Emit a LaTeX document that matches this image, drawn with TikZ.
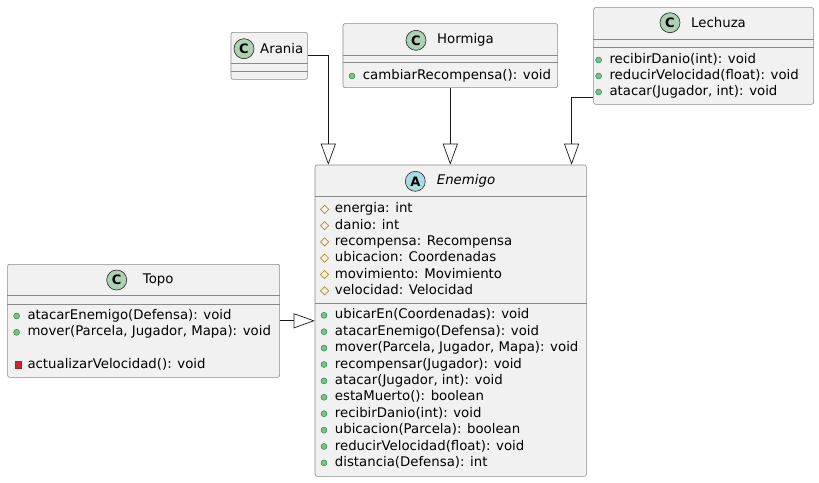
\documentclass[tikz,border=0pt]{standalone}
\usepackage{fontspec}
\setmainfont{DejaVu Sans}
\usetikzlibrary{positioning}
\usetikzlibrary{shapes.geometric, arrows.meta, positioning}
\definecolor{boxfill}{HTML}{F1F1F1}
\definecolor{boxline}{HTML}{8A8A8A}
\definecolor{cgreen}{HTML}{ADD1B2}
\definecolor{acyan}{HTML}{A9DCDF}
\definecolor{pubfill}{HTML}{84BE84}
\definecolor{publine}{HTML}{038048}
\definecolor{protline}{HTML}{B38D22}
\definecolor{privfill}{HTML}{C82930}
\tikzstyle{classbox} = [draw=boxline, fill=boxfill, rounded corners=2pt, line width=0.6pt, anchor=north west, inner sep=0pt]
\tikzstyle{sep} = [draw=boxline, line width=0.6pt]
\tikzstyle{icon} = [draw=black!85, circle, minimum size=20pt, inner sep=0pt, line width=0.6pt, font=\fontsize{13}{13}\selectfont\bfseries]
\tikzstyle{title} = [anchor=west, inner sep=0pt, font=\fontsize{13.3}{16}\selectfont]
\tikzstyle{member} = [anchor=west, inner sep=0pt, text height=10pt, text depth=3pt, font=\fontsize{13.3}{16}\selectfont]
\tikzstyle{pubdot} = [circle, draw=publine, fill=pubfill, minimum size=6pt, inner sep=0pt, line width=0.4pt, label distance=7.5pt]
\tikzstyle{protmark} = [diamond, draw=protline, minimum size=8.5pt, inner sep=0pt, line width=0.7pt, label distance=5.5pt]
\tikzstyle{privmark} = [rectangle, draw=privfill!80!black, fill=privfill, minimum size=6.5pt, inner sep=0pt, line width=0.4pt, label distance=5.5pt]
\tikzstyle{pub} = [member, label={[pubdot]left:}]
\tikzstyle{prot} = [member, label={[protmark]left:}]
\tikzstyle{priv} = [member, label={[privmark]left:}]
\tikzstyle{inherit} = [draw=black!90, line width=0.7pt, -{Triangle[open, length=21pt, width=15pt]}]

\begin{document}
\begin{tikzpicture}[x=1pt, y=-1pt]
    \useasboundingbox (0,0) rectangle (819,482);

    % Class boxes
    \node[classbox, minimum width=76.3pt, minimum height=47pt] (arania) at (230.7,32) {};
    \node[classbox, minimum width=214.6pt, minimum height=64pt] (hormiga) at (342.7,23.3) {};
    \node[classbox, minimum width=220pt, minimum height=96.7pt] (lechuza) at (593.3,7.3) {};
    \node[classbox, minimum width=271.3pt, minimum height=311.3pt] (enemigo) at (314.7,164.7) {};
    \node[classbox, minimum width=272pt, minimum height=113pt] (topo) at (7.3,264) {};

    % Compartment lines
    \draw[sep] (arania.west |- 0,63) -- (arania.east |- 0,63);
    \draw[sep] (arania.west |- 0,71) -- (arania.east |- 0,71);
    \draw[sep] (hormiga.west |- 0,55) -- (hormiga.east |- 0,55);
    \draw[sep] (hormiga.west |- 0,62.7) -- (hormiga.east |- 0,62.7);
    \draw[sep] (lechuza.west |- 0,39.3) -- (lechuza.east |- 0,39.3);
    \draw[sep] (lechuza.west |- 0,47.3) -- (lechuza.east |- 0,47.3);
    \draw[sep] (enemigo.west |- 0,196) -- (enemigo.east |- 0,196);
    \draw[sep] (enemigo.west |- 0,303.3) -- (enemigo.east |- 0,303.3);
    \draw[sep] (topo.west |- 0,295.7) -- (topo.east |- 0,295.7);
    \draw[sep] (topo.west |- 0,304.3) -- (topo.east |- 0,304.3);

    % Headers
    \node[icon, fill=cgreen] (araniaC) at (244,48.7) {C};
    \node[title] (araniaT) at (260,48.7) {Arania};
    \node[icon, fill=cgreen] (hormigaC) at (416,40.3) {C};
    \node[title] (hormigaT) at (437,40.3) {Hormiga};
    \node[icon, fill=cgreen] (lechuzaC) at (670,22.7) {C};
    \node[title] (lechuzaT) at (691,22.7) {Lechuza};
    \node[icon, fill=acyan] (enemigoA) at (415.3,181.3) {A};
    \node[title, font=\fontsize{13.3}{16}\selectfont\itshape] (enemigoT) at (436.7,181.3) {Enemigo};
    \node[icon, fill=cgreen] (topoC) at (116.7,280) {C};
    \node[title] (topoT) at (142.7,280) {Topo};

    % Members of Hormiga and Lechuza
    \node[pub] (h1) at (362.7,76) {cambiarRecompensa(): void};
    \node[pub] (l1) at (609.3,60) {recibirDanio(int): void};
    \node[pub] (l2) at (609.3,76) {reducirVelocidad(float): void};
    \node[pub] (l3) at (609.3,92) {atacar(Jugador, int): void};

    % Members of Enemigo
    \node[prot] (e1) at (334.7,209.3) {energia: int};
    \node[prot] (e2) at (334.7,225.6) {danio: int};
    \node[prot] (e3) at (334.7,241.9) {recompensa: Recompensa};
    \node[prot] (e4) at (334.7,258.2) {ubicacion: Coordenadas};
    \node[prot] (e5) at (334.7,274.5) {movimiento: Movimiento};
    \node[prot] (e6) at (334.7,290.8) {velocidad: Velocidad};
    \node[pub] (m1) at (334.7,315.3) {ubicarEn(Coordenadas): void};
    \node[pub] (m2) at (334.7,331.7) {atacarEnemigo(Defensa): void};
    \node[pub] (m3) at (334.7,348.1) {mover(Parcela, Jugador, Mapa): void};
    \node[pub] (m4) at (334.7,364.5) {recompensar(Jugador): void};
    \node[pub] (m5) at (334.7,380.9) {atacar(Jugador, int): void};
    \node[pub] (m6) at (334.7,397.3) {estaMuerto(): boolean};
    \node[pub] (m7) at (334.7,413.7) {recibirDanio(int): void};
    \node[pub] (m8) at (334.7,430.1) {ubicacion(Parcela): boolean};
    \node[pub] (m9) at (334.7,446.5) {reducirVelocidad(float): void};
    \node[pub] (m10) at (334.7,462.9) {distancia(Defensa): int};

    % Members of Topo
    \node[pub] (t1) at (27.3,316) {atacarEnemigo(Defensa): void};
    \node[pub] (t2) at (27.3,332.3) {mover(Parcela, Jugador, Mapa): void};
    \node[priv] (t3) at (27.3,364.6) {actualizarVelocidad(): void};

    % Inheritance arrows
    \draw[inherit] (arania.east) -| ([xshift=13.6pt]enemigo.north west);
    \draw[inherit] (hormiga.south) -- (hormiga.south |- enemigo.north);
    \draw[inherit] ([yshift=-41pt]lechuza.west) -| ([xshift=-15pt]enemigo.north east);
    \draw[inherit] (topo.east) -- (topo.east -| enemigo.west);
\end{tikzpicture}
\end{document}
